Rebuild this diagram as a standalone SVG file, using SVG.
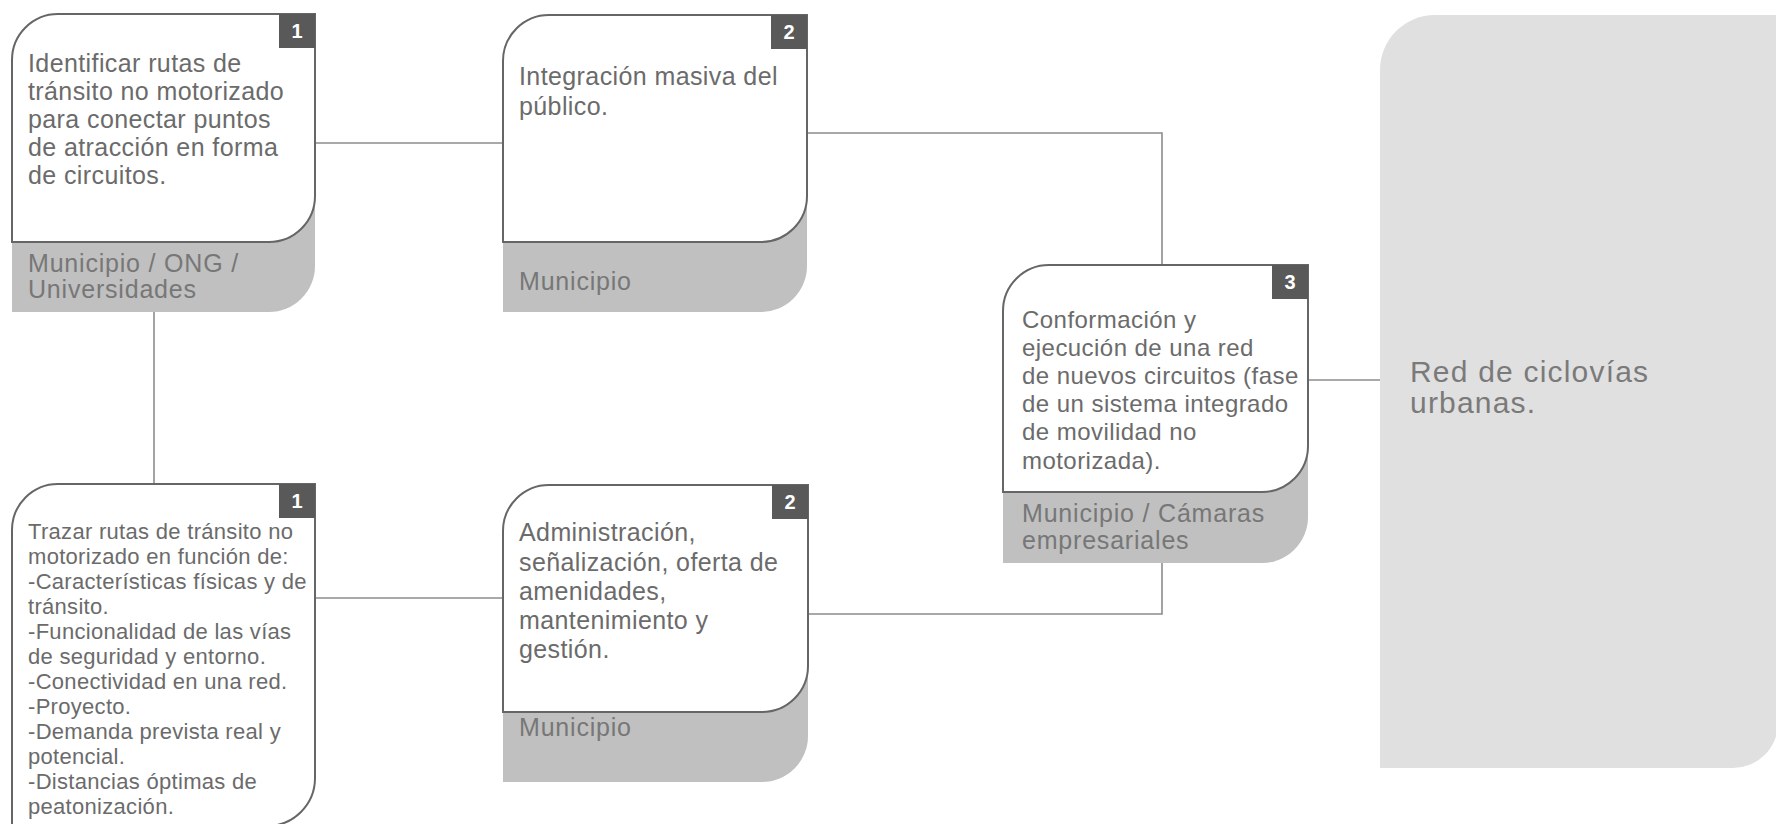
<svg xmlns="http://www.w3.org/2000/svg" width="1776" height="824" viewBox="0 0 1776 824">
<style>
.conn{fill:none;stroke:#8c8c8c;stroke-width:1.6}
.card{fill:#ffffff;stroke:#666666;stroke-width:2}
.band{fill:#c0c0c0}
.badge{fill:#595959}
.num{font-family:"Liberation Sans",Arial,sans-serif;font-weight:bold;font-size:20px;fill:#ffffff;text-anchor:middle}
.t{font-family:"Liberation Sans",Arial,sans-serif;font-size:25px;fill:#6b6b6b;letter-spacing:0.4px}
.t3{font-family:"Liberation Sans",Arial,sans-serif;font-size:24px;fill:#6b6b6b;letter-spacing:0.45px}
.ts{font-family:"Liberation Sans",Arial,sans-serif;font-size:22px;fill:#6b6b6b;letter-spacing:0.3px}
.tb{font-family:"Liberation Sans",Arial,sans-serif;font-size:25px;fill:#777777;letter-spacing:0.8px}
.tr{font-family:"Liberation Sans",Arial,sans-serif;font-size:30px;fill:#7a7a7a;letter-spacing:1.2px}
</style>
<rect width="1776" height="824" fill="#ffffff"/>
<g id="connectors">
<path class="conn" d="M315,143 H503"/>
<path class="conn" d="M807,133 H1162 V265"/>
<path class="conn" d="M154,312 V484"/>
<path class="conn" d="M315,598 H503"/>
<path class="conn" d="M808,614 H1162 V563"/>
<path class="conn" d="M1308,380 H1380"/>
</g>
<g id="result">
<path d="M1380,70 A55,55 0 0 1 1435,15 H1778 V723 A45,45 0 0 1 1733,768 H1380 Z" fill="#e0e0e0"/>
<text class="tr" x="1410" y="382">Red de ciclovías</text>
<text class="tr" x="1410" y="413">urbanas.</text>
</g>
<g id="node1">
<path class="band" d="M12,180 H315 V266 A46,46 0 0 1 269,312 H12 Z"/>
<path class="card" d="M12,242 V60 A46,46 0 0 1 58,14 H315 V196 A46,46 0 0 1 269,242 Z"/>
<rect class="badge" x="279" y="14" width="36" height="34"/>
<text class="num" x="297" y="38">1</text>
<text class="t" x="28" y="72">Identificar rutas de</text>
<text class="t" x="28" y="100">tránsito no motorizado</text>
<text class="t" x="28" y="128">para conectar puntos</text>
<text class="t" x="28" y="156">de atracción en forma</text>
<text class="t" x="28" y="184">de circuitos.</text>
<text class="tb" x="28" y="272">Municipio / ONG /</text>
<text class="tb" x="28" y="298">Universidades</text>
</g>
<g id="node2">
<path class="band" d="M503,180 H807 V266 A46,46 0 0 1 761,312 H503 Z"/>
<path class="card" d="M503,242 V61 A46,46 0 0 1 549,15 H807 V196 A46,46 0 0 1 761,242 Z"/>
<rect class="badge" x="771" y="15" width="36" height="34"/>
<text class="num" x="789" y="39">2</text>
<text class="t" x="519" y="85">Integración masiva del</text>
<text class="t" x="519" y="115">público.</text>
<text class="tb" x="519" y="290">Municipio</text>
</g>
<g id="node3">
<path class="band" d="M1003,430 H1308 V517 A46,46 0 0 1 1262,563 H1003 Z"/>
<path class="card" d="M1003,492 V311 A46,46 0 0 1 1049,265 H1308 V446 A46,46 0 0 1 1262,492 Z"/>
<rect class="badge" x="1272" y="265" width="36" height="34"/>
<text class="num" x="1290" y="289">3</text>
<text class="t3" x="1022" y="328">Conformación y</text>
<text class="t3" x="1022" y="356">ejecución de una red</text>
<text class="t3" x="1022" y="384">de nuevos circuitos (fase</text>
<text class="t3" x="1022" y="412">de un sistema integrado</text>
<text class="t3" x="1022" y="440">de movilidad no</text>
<text class="t3" x="1022" y="469">motorizada).</text>
<text class="tb" x="1022" y="522">Municipio / Cámaras</text>
<text class="tb" x="1022" y="549">empresariales</text>
</g>
<g id="node4">
<path class="card" d="M12,840 V530 A46,46 0 0 1 58,484 H315 V778 A48,48 0 0 1 267,826 H12"/>
<rect class="badge" x="279" y="484" width="36" height="34"/>
<text class="num" x="297" y="508">1</text>
<text class="ts" x="28" y="539">Trazar rutas de tránsito no</text>
<text class="ts" x="28" y="564">motorizado en función de:</text>
<text class="ts" x="28" y="589">-Características físicas y de</text>
<text class="ts" x="28" y="614">tránsito.</text>
<text class="ts" x="28" y="639">-Funcionalidad de las vías</text>
<text class="ts" x="28" y="664">de seguridad y entorno.</text>
<text class="ts" x="28" y="689">-Conectividad en una red.</text>
<text class="ts" x="28" y="714">-Proyecto.</text>
<text class="ts" x="28" y="739">-Demanda prevista real y</text>
<text class="ts" x="28" y="764">potencial.</text>
<text class="ts" x="28" y="789">-Distancias óptimas de</text>
<text class="ts" x="28" y="814">peatonización.</text>
</g>
<g id="node5">
<path class="band" d="M503,650 H808 V736 A46,46 0 0 1 762,782 H503 Z"/>
<path class="card" d="M503,712 V531 A46,46 0 0 1 549,485 H808 V666 A46,46 0 0 1 762,712 Z"/>
<rect class="badge" x="772" y="485" width="36" height="34"/>
<text class="num" x="790" y="509">2</text>
<text class="t" x="519" y="541">Administración,</text>
<text class="t" x="519" y="571">señalización, oferta de</text>
<text class="t" x="519" y="600">amenidades,</text>
<text class="t" x="519" y="629">mantenimiento y</text>
<text class="t" x="519" y="658">gestión.</text>
<text class="tb" x="519" y="736">Municipio</text>
</g>
</svg>
